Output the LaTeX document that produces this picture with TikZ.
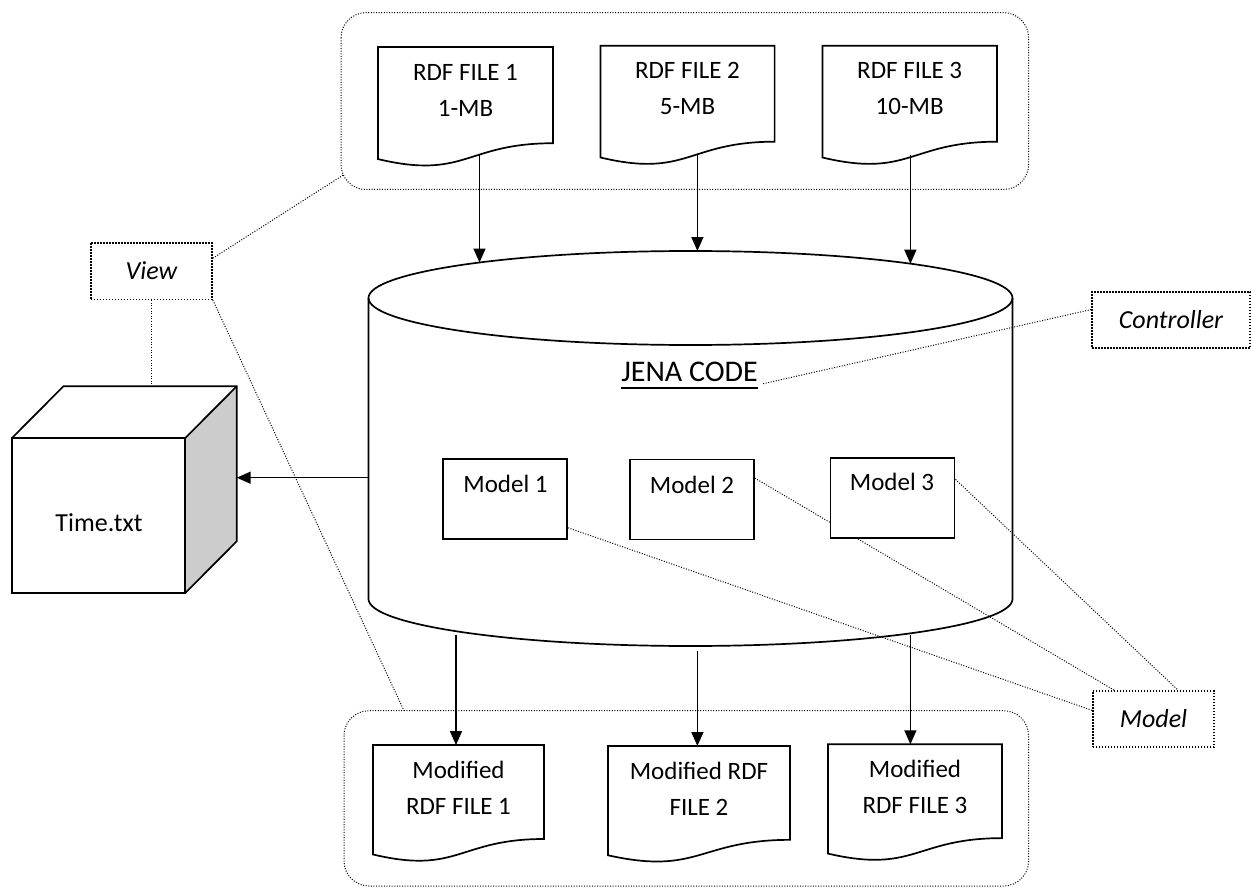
\documentclass[tikz,border=0pt]{standalone}
\usepackage{fontspec}
\setmainfont{Carlito}
\usetikzlibrary{arrows.meta,calc}

% document sheet with a wavy lower edge: left, top, right, height
\newcommand\docsheet[4]{%
  \draw[shapeline,fill=white] (#1,#2) -- (#3,#2) -- (#3,{#2+0.802*#4})
    .. controls ({(#1+#3)/2},{#2+0.802*#4}) and ({(#1+#3)/2},{#2+1.1075*#4})
    .. (#1,{#2+0.934*#4}) -- cycle;}

\begin{document}
\begin{tikzpicture}[x=1pt,y=-1pt,
  shapeline/.style={line width=1.7pt},
  finedots/.style={line width=1pt,dash pattern=on 1pt off 1.6pt},
  dotbox/.style={draw,line width=1.6pt,dash pattern=on 1.6pt off 1.4pt,
    fill=white,inner sep=0pt,font=\fontsize{26}{30}\selectfont\itshape},
  modelbox/.style={draw,line width=1.7pt,fill=white,inner sep=0pt,
    minimum width=124pt,minimum height=80pt},
  lbl/.style={font=\fontsize{25}{36}\selectfont,align=center,inner sep=0pt},
  arr/.style={line width=1.5pt,-{Triangle[length=14pt,width=12pt]}}]

\useasboundingbox[fill=white] (0,0) rectangle (1251,888);

% dotted groups round the input and output files
\draw[finedots,rounded corners=25pt] (341,12.7) rectangle (1028.6,189.5);
\draw[finedots,rounded corners=25pt] (344,710.7) rectangle (1028.6,886);

% input files
\docsheet{378}{47}{553}{120}
\docsheet{600.5}{45.7}{774.6}{119.7}
\docsheet{822.4}{45.7}{997}{119.7}
\node[lbl] (f1) at (465.5,90) {RDF FILE 1\\1-MB};
\node[lbl] (f2) at (687.5,88.5) {RDF FILE 2\\5-MB};
\node[lbl] (f3) at (909.7,88.5) {RDF FILE 3\\10-MB};

% output files
\docsheet{373}{745}{544}{117.2}
\docsheet{608}{746}{790}{117}
\docsheet{828}{744.3}{1002}{117}
\node[lbl] (o1) at (458.5,787.5) {Modified\\RDF FILE 1};
\node[lbl] (o2) at (699,789) {Modified RDF\\FILE 2};
\node[lbl] (o3) at (915,786.5) {Modified\\RDF FILE 3};

% the JENA cylinder
\draw[shapeline] (690.5,298) ellipse[x radius=322,y radius=47];
\draw[shapeline] (368.5,298) -- (368.5,599)
  arc[start angle=180,end angle=0,x radius=322,y radius=47] -- (1012.5,298);
\node[font=\fontsize{30}{36}\selectfont,inner sep=0pt,anchor=base] (jena)
  at (689.5,381.7) {JENA CODE};
\draw[line width=1.7pt] ([yshift=-6pt]jena.base west) -- ([yshift=-6pt]jena.base east);

% arrows into and out of the cylinder
\coordinate (f1b) at (479.5,155);  \coordinate (c1t) at (479.5,262.5);
\coordinate (f2b) at (697.4,155);  \coordinate (c2t) at (697.4,251);
\coordinate (f3b) at (910.4,155);  \coordinate (c3t) at (910.4,263.7);
\draw[arr] (f1b) -- (c1t);
\draw[arr] (f2b) -- (c2t);
\draw[arr] (f3b) -- (c3t);
\coordinate (c1b) at (456,635);    \coordinate (o1t) at (456,745);
\coordinate (c2b) at (697.4,651);  \coordinate (o2t) at (697.4,746);
\coordinate (c3b) at (910.4,635);  \coordinate (o3t) at (910.4,744.3);
\draw[arr] (c1b) -- (o1t);
\draw[arr] (c2b) -- (o2t);
\draw[arr] (c3b) -- (o3t);

% Time.txt cube
\fill[black!20] (185,438.3) -- (236.7,386.3) -- (236.7,541.3) -- (185,593.3) -- cycle;
\draw[shapeline,line join=miter] (11.7,438.3) rectangle (185,593.3);
\draw[shapeline,line join=miter] (11.7,438.3) -- (63.4,386.3) -- (236.7,386.3)
  -- (236.7,541.3) -- (185,593.3);
\draw[shapeline] (185,438.3) -- (236.7,386.3);
\node[lbl,font=\fontsize{26}{30}\selectfont] (time) at (99,523) {Time.txt};
\coordinate (cylL) at (368.5,477.7);
\coordinate (cubeR) at (236.7,477.7);
\draw[arr] (cylL) -- (cubeR);

% role labels
\node[dotbox,minimum width=121.3pt,minimum height=56.6pt] (view) at (151.4,271) {View};
\node[dotbox,minimum width=158pt,minimum height=56.5pt] (ctrl) at (1171,320) {Controller};
\node[dotbox,minimum width=121.3pt,minimum height=56pt] (mdl) at (1153.5,719) {Model};

\coordinate (cubeT) at (view.south |- 0,386.3);
\coordinate (topgrp) at (343.3,175);
\coordinate (botgrp) at (404,710.7);
\coordinate (jenaend) at (762,384);
\draw[finedots] (view.south) -- (cubeT);
\draw[finedots] ($(view.north east)!0.28!(view.south east)$) -- (topgrp);
\draw[finedots] (view.south east) -- (botgrp);
\draw[finedots] ($(ctrl.north west)!0.32!(ctrl.south west)$) -- (jenaend);

% models inside the cylinder
\node[modelbox] (m1) at (505.2,499.2) {};
\node[modelbox] (m2) at (692.1,499.4) {};
\draw[finedots] ($(m1.north east)!0.85!(m1.south east)$) -- ($(mdl.north west)!0.35!(mdl.south west)$);
\draw[finedots] ($(m2.north east)!0.24!(m2.south east)$) -- ($(mdl.north west)!0.18!(mdl.north east)$);
\node[modelbox] (m3) at (892.6,497.8) {};
\draw[finedots] ($(m3.north east)!0.275!(m3.south east)$) -- ($(mdl.north west)!0.7!(mdl.north east)$);
\node[lbl] (m1t) at (505.5,484) {Model 1};
\node[lbl] (m2t) at (692,485) {Model 2};
\node[lbl] (m3t) at (892,482) {Model 3};

\end{tikzpicture}
\end{document}
